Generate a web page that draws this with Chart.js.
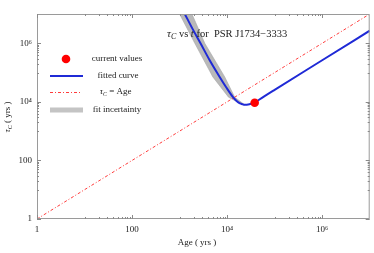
<!DOCTYPE html>
<html>
<head>
<meta charset="utf-8">
<script src="https://cdn.jsdelivr.net/npm/chart.js@4.4.1/dist/chart.umd.min.js"></script>
<style>
  html, body { margin: 0; padding: 0; background: #fff; }
</style>
</head>
<body>
<canvas id="tauChart" width="374" height="253"></canvas>
<script>
// fitted curve (yrs)
const fitAges = [1288, 1862, 2754, 4266, 6918, 9550, 13183, 15849, 18197, 20893, 23442, 29512, 38019, 47863, 100000, 1000000, 10000000];
const fitTau = [10000000, 3160000, 1000000, 269000, 72400, 31600, 14800, 10700, 9120, 8320, 7940, 8320, 9330, 12000, 25700, 263000, 2690000];

// outline of the grey uncertainty band (down the left edge, back up the right edge)
const bandAges = [1000, 2089, 5012, 10715, 18197, 23442, 14450, 8913, 3388, 1820];
const bandTau = [10000000, 1000000, 70800, 14450, 9120, 7940, 14450, 70800, 1000000, 10000000];

// tau_C = Age
const diagAges = [1, 10000000];

// current values
const currentAge = [38000];
const currentTau = [9300];

const majorTicks = [1, 100, 10000, 1000000];
const tickLabels = ["1", "100", "10⁴", "10⁶"];

const serif = "'Liberation Serif', 'DejaVu Serif', serif";
const txtColor = "#222";

// minor ticks only in the decade just below each major tick
const minorTicks = [];
[10, 1000, 100000].forEach((d) => {
  for (let k = 1; k <= 9; k++) minorTicks.push(k * d);
});

const fitColor = "#1f2ad6";
const diagColor = "#ff3b3b";
const bandColor = "#b9b9b9";

const drawTauC = (ctx, x, y, size) => {
  // draws τ with subscript C, returns x after it
  ctx.font = "italic " + size + "px " + serif;
  ctx.fillText("τ", x, y);
  x += ctx.measureText("τ").width;
  ctx.font = "italic " + Math.round(size * 0.72) + "px " + serif;
  ctx.fillText("C", x, y + size * 0.25);
  x += ctx.measureText("C").width;
  return x;
};

const decorPlugin = {
  id: "decor",
  afterDraw(chart) {
    const ctx = chart.ctx;
    const a = chart.chartArea;
    const xs = chart.scales.x;
    const ys = chart.scales.y;
    ctx.save();

    // frame
    ctx.strokeStyle = "#9a9a9a";
    ctx.lineWidth = 1;
    ctx.strokeRect(a.left + 0.5, a.top + 0.5, a.right - a.left - 1, a.bottom - a.top - 1);

    // inward ticks on all four sides
    ctx.strokeStyle = "#8a8a8a";
    const tick = (vals, len) => {
      vals.forEach((v) => {
        const px = Math.round(xs.getPixelForValue(v)) + 0.5;
        ctx.beginPath();
        ctx.moveTo(px, a.bottom); ctx.lineTo(px, a.bottom - len);
        ctx.moveTo(px, a.top); ctx.lineTo(px, a.top + len);
        ctx.stroke();
        const py = Math.round(ys.getPixelForValue(v)) + 0.5;
        ctx.beginPath();
        ctx.moveTo(a.left, py); ctx.lineTo(a.left + len, py);
        ctx.moveTo(a.right, py); ctx.lineTo(a.right - len, py);
        ctx.stroke();
      });
    };
    tick(majorTicks, 4);
    tick(minorTicks, 2);

    ctx.fillStyle = txtColor;
    ctx.textBaseline = "middle";
    ctx.textAlign = "left";

    // title inside the plot
    const ty = 34;
    let tx = drawTauC(ctx, 167, ty, 11);
    ctx.font = "10.5px " + serif;
    ctx.fillText(" vs ", tx, ty);
    tx += ctx.measureText(" vs ").width;
    ctx.font = "italic 10.5px " + serif;
    ctx.fillText("t", tx, ty);
    tx += ctx.measureText("t").width;
    ctx.font = "10.5px " + serif;
    ctx.fillText(" for  PSR J1734−3333", tx, ty);

    // axis titles
    ctx.font = "9px " + serif;
    ctx.textAlign = "center";
    ctx.fillText("Age ( yrs )", 197, 243);

    ctx.save();
    ctx.translate(8, 116);
    ctx.rotate(-Math.PI / 2);
    ctx.textAlign = "left";
    ctx.font = "9px " + serif;
    const rest = " ( yrs )";
    const restW = ctx.measureText(rest).width;
    ctx.font = "italic 9px " + serif;
    const tauW = ctx.measureText("τ").width + 6;
    let rx = -(restW + tauW) / 2;
    rx = drawTauC(ctx, rx, 0, 9);
    ctx.font = "9px " + serif;
    ctx.fillText(rest, rx, 0);
    ctx.restore();

    // legend
    const legY = [59, 76, 92, 110];
    const cx = 117;
    ctx.beginPath();
    ctx.fillStyle = "#ff0000";
    ctx.arc(66, legY[0], 4.3, 0, Math.PI * 2);
    ctx.fill();

    ctx.lineCap = "butt";
    ctx.strokeStyle = fitColor;
    ctx.lineWidth = 2;
    ctx.beginPath(); ctx.moveTo(50, legY[1]); ctx.lineTo(83, legY[1]); ctx.stroke();

    ctx.strokeStyle = diagColor;
    ctx.lineWidth = 1;
    ctx.setLineDash([3, 2, 1, 2]);
    ctx.beginPath(); ctx.moveTo(50, legY[2] + 0.5); ctx.lineTo(81, legY[2] + 0.5); ctx.stroke();
    ctx.setLineDash([]);

    ctx.strokeStyle = "#c4c4c4";
    ctx.lineWidth = 5;
    ctx.beginPath(); ctx.moveTo(50, legY[3]); ctx.lineTo(83, legY[3]); ctx.stroke();

    ctx.fillStyle = txtColor;
    ctx.textAlign = "center";
    ctx.font = "9px " + serif;
    ctx.fillText("current values", cx, legY[0]);
    ctx.fillText("fitted curve", cx + 1, legY[1]);
    ctx.fillText("fit incertainty", cx, legY[3]);

    ctx.textAlign = "left";
    ctx.font = "9px " + serif;
    const eqW = ctx.measureText(" = Age").width;
    let lx = cx - (eqW + 10) / 2;
    lx = drawTauC(ctx, lx, legY[2], 9);
    ctx.font = "9px " + serif;
    ctx.fillText(" = Age", lx, legY[2]);

    ctx.restore();
  },
};

const logAxis = (fitSize) => ({
  type: "logarithmic",
  min: 1,
  max: 10000000,
  afterBuildTicks: (s) => {
    s.ticks = majorTicks.map((v) => ({ value: v }));
  },
  afterFit: fitSize,
  grid: { display: false, drawTicks: false },
  border: { display: false },
  ticks: {
    autoSkip: false,
    maxRotation: 0,
    color: txtColor,
    font: { family: serif, size: 9 },
    callback: (value, index) => tickLabels[index],
  },
});

const xAxis = logAxis((s) => { s.height = 34; });
xAxis.ticks.padding = 5;
const yAxis = logAxis((s) => { s.width = 37; });
yAxis.ticks.padding = 5;

new Chart(document.getElementById("tauChart"), {
  type: "line",
  data: {
    datasets: [
      {
        label: "current values",
        type: "scatter",
        data: currentAge.map((a, i) => ({ x: a, y: currentTau[i] })),
        pointRadius: 4.3,
        backgroundColor: "#ff0000",
        borderWidth: 0,
        order: 0,
      },
      {
        label: "fitted curve",
        data: fitAges.map((a, i) => ({ x: a, y: fitTau[i] })),
        borderColor: fitColor,
        borderWidth: 2,
        pointRadius: 0,
        cubicInterpolationMode: "monotone",
        fill: false,
        clip: 0,
        order: 1,
      },
      {
        label: "τC = Age",
        data: diagAges.map((a) => ({ x: a, y: a })),
        borderColor: diagColor,
        borderWidth: 1,
        borderDash: [3, 2, 1, 2],
        pointRadius: 0,
        fill: false,
        order: 2,
      },
      {
        label: "fit incertainty",
        data: bandAges.map((a, i) => ({ x: a, y: bandTau[i] })),
        borderColor: "#a8a8a8",
        borderWidth: 0.6,
        backgroundColor: bandColor,
        pointRadius: 0,
        fill: "shape",
        clip: 0,
        order: 3,
      },
    ],
  },
  options: {
    responsive: false,
    animation: false,
    devicePixelRatio: 1,
    layout: { padding: { top: 14, right: 4, left: 0, bottom: 0 } },
    scales: { x: xAxis, y: yAxis },
    plugins: {
      legend: { display: false },
      tooltip: { enabled: false },
    },
  },
  plugins: [decorPlugin],
});
</script>
</body>
</html>
